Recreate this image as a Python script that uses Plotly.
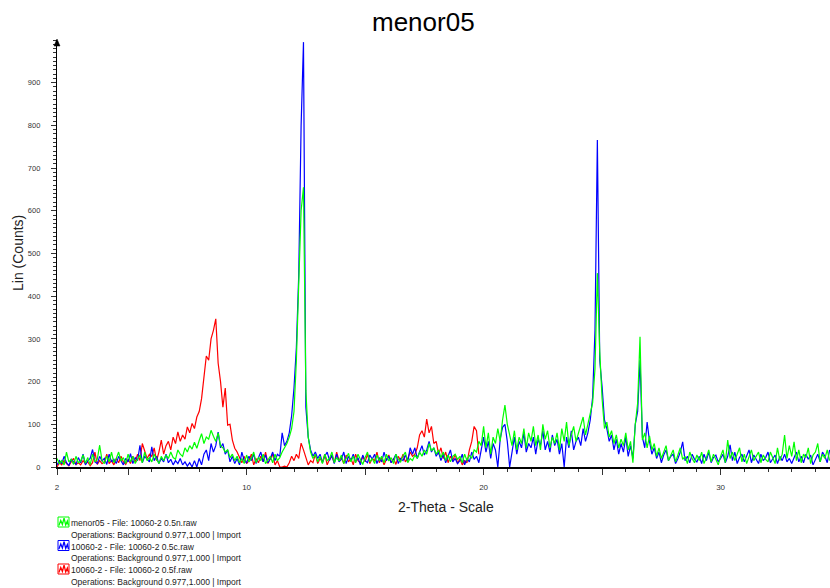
import plotly.graph_objects as go

# ---------------- data ----------------
TWO_THETA_START = 2.0
TWO_THETA_STEP = 0.1

menor05_counts = [
    20, 8, 15, 5, 35, 12, 18, 6, 25, 10,
    14, 28, 9, 22, 5, 30, 12, 18, 51, 15,
    8, 26, 12, 35, 10, 20, 35, 14, 22, 8,
    30, 12, 25, 8, 18, 28, 10, 35, 15, 22,
    12, 30, 18, 8, 25, 15, 28, 20, 35, 22,
    18, 40, 30, 25, 45, 35, 50, 42, 58, 44,
    62, 78, 55, 70, 65, 86, 72, 60, 80, 50,
    45, 35, 40, 22, 30, 15, 25, 10, 20, 8,
    28, 12, 20, 35, 10, 22, 15, 30, 8, 18,
    25, 10, 30, 15, 22, 35, 45, 55, 70, 90,
    130, 250, 430, 600, 655, 180, 70, 35, 20, 30,
    12, 25, 8, 30, 15, 20, 35, 10, 22, 14,
    28, 8, 20, 32, 12, 25, 10, 30, 18, 6,
    22, 35, 12, 20, 8, 28, 15, 25, 10, 30,
    14, 22, 8, 30, 18, 12, 26, 35, 10, 20,
    15, 28, 20, 35, 25, 40, 30, 55, 38, 45,
    30, 40, 22, 35, 15, 28, 12, 25, 30, 18,
    25, 10, 30, 15, 28, 20, 40, 35, 60, 50,
    95, 45, 80, 30, 70, 55, 90, 60, 110, 145,
    100, 75, 50, 85, 40, 70, 55, 90, 45, 80,
    60, 95, 50, 75, 40, 100, 65, 85, 45, 70,
    55, 80, 40, 90, 60, 105, 50, 75, 95, 60,
    80, 95, 117, 75, 100, 130, 150, 230, 454, 270,
    160, 90, 105, 70, 85, 55, 75, 45, 65, 50,
    80, 40, 60, 10, 100, 150, 305, 63, 80, 45,
    73, 40, 55, 25, 45, 20, 35, 50, 15, 30,
    40, 12, 30, 45, 18, 25, 8, 35, 20, 10,
    28, 15, 35, 8, 22, 40, 12, 30, 18, 5,
    25, 40, 10, 63, 20, 35, 15, 28, 45, 12,
    30, 8, 22, 40, 15, 25, 35, 10, 28, 18,
    12, 35, 20, 8, 45, 15, 30, 75, 20, 50,
    25, 59, 15, 40, 10, 30, 22, 45, 8, 28,
    35, 55, 12, 30, 20, 40, 15,
]

c_counts = [
    5, 15, 8, 25, 10, 3, 18, 12, 6, 22,
    10, 30, 5, 15, 20, 41, 12, 8, 25, 14,
    20, 6, 30, 12, 18, 8, 25, 15, 5, 20,
    12, 31, 8, 22, 15, 51, 10, 25, 18, 12,
    47, 15, 25, 8, 20, 12, 30, 10, 18, 5,
    15, 8, 20, 5, 12, 2, 10, 0, 15, 0,
    20, 5, 30, 40, 15, 55, 35, 50, 82, 45,
    55, 30, 40, 12, 25, 8, 20, 5, 35, 15,
    10, 25, 15, 30, 8, 20, 35, 12, 28, 10,
    20, 35, 15, 30, 25, 80, 50, 60, 80, 120,
    185, 280, 450, 800, 995, 140, 70, 40, 25, 35,
    20, 30, 10, 25, 35, 15, 28, 8, 30, 12,
    18, 35, 8, 25, 15, 30, 12, 22, 5, 28,
    15, 10, 28, 18, 30, 8, 22, 12, 35, 15,
    25, 10, 18, 30, 8, 20, 15, 28, 12, 45,
    30, 45, 20, 35, 50, 28, 40, 60, 35, 45,
    25, 35, 15, 30, 10, 25, 40, 12, 20, 8,
    15, 30, 5, 20, 12, 35, 18, 25, 10, 40,
    70, 35, 60, 20, 55, 40, 0, 65, 93, 100,
    60, 0, 40, 70, 30, 60, 45, 80, 35, 55,
    45, 70, 30, 65, 50, 85, 40, 60, 35, 75,
    50, 65, 30, 55, 0, 70, 45, 85, 40, 60,
    70, 50, 90, 60, 80, 110, 163, 320, 766, 250,
    188, 110, 90, 60, 75, 40, 65, 30, 55, 35,
    70, 25, 50, 20, 100, 130, 250, 70, 45, 105,
    60, 30, 45, 20, 35, 10, 28, 40, 15, 25,
    30, 8, 20, 35, 59, 15, 25, 10, 30, 18,
    12, 25, 8, 30, 15, 35, 10, 22, 28, 12,
    20, 30, 10, 25, 52, 15, 35, 8, 22, 30,
    12, 25, 40, 10, 28, 18, 8, 30, 15, 22,
    35, 10, 20, 28, 8, 25, 15, 30, 12, 20,
    8, 22, 35, 12, 25, 10, 30, 18, 28, 5,
    20, 30, 12, 35, 25, 10, 40,
]

f_counts = [
    0, 10, 5, 15, 8, 3, 12, 20, 6, 10,
    5, 15, 8, 12, 3, 10, 35, 6, 15, 8,
    12, 30, 8, 15, 5, 20, 10, 25, 12, 6,
    18, 8, 25, 12, 30, 15, 55, 40, 20, 30,
    25, 45, 15, 35, 63, 30, 50, 60, 40, 70,
    55, 82, 60, 75, 65, 94, 80, 102, 90, 117,
    130, 160, 208, 260, 250, 300, 320, 347, 243, 200,
    140, 185, 98, 100, 63, 44, 35, 20, 10, 25,
    8, 15, 30, 5, 20, 10, 25, 12, 35, 8,
    20, 30, 5, 15, 0, 0, 2, 0, 10, 25,
    15, 30, 20, 56, 40, 25, 5, 15, 10, 30,
    8, 20, 12, 30, 5, 18, 25, 10, 35, 15,
    22, 8, 28, 12, 20, 5, 30, 15, 10, 25,
    12, 30, 8, 20, 15, 35, 10, 22, 5, 18,
    28, 10, 20, 6, 25, 15, 30, 12, 20, 35,
    25, 30, 45, 75, 85, 70, 112, 80, 95, 55,
    60, 30, 45, 20, 35, 10, 25, 15, 30, 8,
    20, 5, 15, 10, 40, 60, 95, 85, 30,
]

series_names = ["menor05", "10060-2", "10060-2"]
series_files = ["10060-2 0.5n.raw", "10060-2 0.5c.raw", "10060-2 0.5f.raw"]
series_colors = ["#00FF00", "#0000FF", "#FF0000"]
series_counts = [menor05_counts, c_counts, f_counts]
operations_text = "Operations: Background 0.977,1.000 | Import"

x_tick_vals = [2, 5, 10, 15, 20, 25, 30]
x_tick_text = ["2", "", "10", "", "20", "", "30"]
y_tick_vals = [0, 100, 200, 300, 400, 500, 600, 700, 800, 900]

title_text = "menor05"
x_title = "2-Theta - Scale"
y_title = "Lin (Counts)"

# ---------------- layout geometry ----------------
FIG_W, FIG_H = 830, 588
ML, MR, MT, MB = 57, 0, 40, 121
PW = FIG_W - ML - MR
PH = FIG_H - MT - MB
PX_PER_DEG = 23.7
FONT = "Liberation Sans, Arial, Helvetica, sans-serif"


def px_x(px):
    return (px - ML) / PW


def px_y(py):
    return (FIG_H - MB - py) / PH


def two_theta(n):
    return [round(TWO_THETA_START + i * TWO_THETA_STEP, 2) for i in range(n)]


fig = go.Figure()

# draw order: red, blue, green (green on top)
for idx in [2, 1, 0]:
    ys = series_counts[idx]
    fig.add_trace(go.Scatter(
        x=two_theta(len(ys)), y=ys, mode="lines",
        line=dict(color=series_colors[idx], width=1.2),
        showlegend=False, hoverinfo="x+y",
    ))

fig.update_layout(
    width=FIG_W, height=FIG_H,
    margin=dict(l=ML, r=MR, t=MT, b=MB, pad=0),
    paper_bgcolor="white", plot_bgcolor="white",
    font=dict(family=FONT, color="#000"),
    showlegend=False,
)

fig.update_xaxes(
    range=[2, 2 + PW / PX_PER_DEG],
    tickmode="array", tickvals=x_tick_vals, ticktext=x_tick_text,
    ticks="outside", ticklen=6, tickwidth=1, tickcolor="#333",
    tickfont=dict(size=8, color="#333", family=FONT),
    ticklabelstandoff=6,
    minor=dict(tickmode="array", tickvals=[v for v in range(3, 35) if v not in x_tick_vals],
               ticks="outside", ticklen=3, tickwidth=1, tickcolor="#333"),
    showline=True, linecolor="black", linewidth=1.6,
    showgrid=False, zeroline=False,
)

fig.update_yaxes(
    range=[0, 1000],
    tickmode="array", tickvals=y_tick_vals,
    ticks="outside", ticklen=5, tickwidth=1, tickcolor="#333",
    tickfont=dict(size=7.5, color="#333", family=FONT),
    ticklabelstandoff=9,
    minor=dict(dtick=10, tick0=0, ticks="outside", ticklen=3, tickwidth=1, tickcolor="#333"),
    showline=True, linecolor="black", linewidth=1.3,
    showgrid=False, zeroline=False,
)

annotations = []
shapes = []

# title and axis titles
annotations.append(dict(text=title_text, x=px_x(423), y=px_y(22), xref="paper", yref="paper",
                        showarrow=False, xanchor="center", yanchor="middle",
                        font=dict(size=26, family=FONT, color="black")))
annotations.append(dict(text=x_title, x=px_x(446), y=px_y(507), xref="paper", yref="paper",
                        showarrow=False, xanchor="center", yanchor="middle",
                        font=dict(size=14, family=FONT, color="#222")))
annotations.append(dict(text=y_title, x=px_x(18), y=px_y(253), xref="paper", yref="paper",
                        showarrow=False, xanchor="center", yanchor="middle", textangle=-90,
                        font=dict(size=14, family=FONT, color="#222")))

# arrow head on top of y axis
ax0, ay0 = ML, MT
shapes.append(dict(
    type="path", xref="paper", yref="paper",
    path=f"M {px_x(ax0 - 3)} {px_y(ay0 + 6)} L {px_x(ax0)} {px_y(ay0 - 1)} L {px_x(ax0 + 3)} {px_y(ay0 + 6)} Z",
    fillcolor="black", line=dict(color="black", width=0.5),
))

# legend
zig = [(0.08, 0.85), (0.25, 0.35), (0.4, 0.75), (0.55, 0.12), (0.7, 0.8), (0.85, 0.4), (0.95, 0.85)]
for i in range(3):
    base = 523 + i * 23.5
    bx0, bx1 = 58, 69
    by0, by1 = base - 6, base + 4
    col = series_colors[i]
    shapes.append(dict(type="rect", xref="paper", yref="paper",
                       x0=px_x(bx0), x1=px_x(bx1), y0=px_y(by1), y1=px_y(by0),
                       line=dict(color=col, width=1), fillcolor="white"))
    pts = [(bx0 + fx * (bx1 - bx0), by0 + fy * (by1 - by0)) for fx, fy in zig]
    path = "M " + " L ".join(f"{px_x(a)} {px_y(b)}" for a, b in pts)
    shapes.append(dict(type="path", xref="paper", yref="paper", path=path,
                       line=dict(color=col, width=1.3)))
    annotations.append(dict(text=f"{series_names[i]} - File: {series_files[i]}",
                            x=px_x(69), y=px_y(base), xref="paper", yref="paper",
                            showarrow=False, xanchor="left", yanchor="middle",
                            font=dict(size=8.5, family=FONT, color="#222")))
    annotations.append(dict(text=operations_text,
                            x=px_x(69), y=px_y(base + 11.5), xref="paper", yref="paper",
                            showarrow=False, xanchor="left", yanchor="middle",
                            font=dict(size=8.5, family=FONT, color="#222")))

fig.update_layout(annotations=annotations, shapes=shapes)

fig.write_html(
    "out.html",
    config={"displayModeBar": False},
    post_script="document.body.style.margin='0';document.body.style.overflow='hidden';",
)
